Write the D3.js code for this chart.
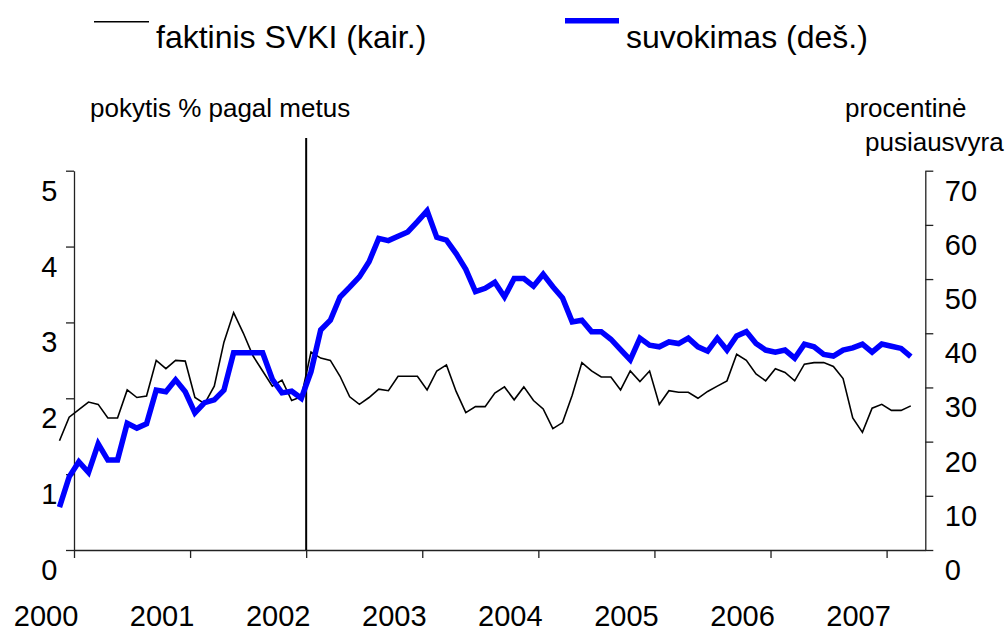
<!DOCTYPE html>
<html lang="lt">
<head>
    <meta charset="UTF-8">
    <title>Faktinė ir suvokiama infliacija</title>
    <style>
        body {
            margin: 0;
            background-color: white;
            font-family: 'Liberation Sans', Arial, sans-serif;
        }
        svg text {
            fill: #000;
        }
    </style>
</head>
<body>

    <div id="chart"></div>

    <script src="https://d3js.org/d3.v7.min.js"></script>

    <script>
        // Data: monthly, Nov 1999 - Mar 2007
        var months = d3.timeMonth.range(new Date(1999, 10, 1), new Date(2007, 3, 1));

        // actual HICP, % change y-o-y (left axis)
        var hicpActual = [
            1.44, 1.75, 1.85, 1.95, 1.92, 1.74, 1.74, 2.11, 2.01, 2.03,
            2.50, 2.39, 2.50, 2.49, 2.01, 1.93, 2.16, 2.74, 3.13, 2.86,
            2.56, 2.36, 2.16, 2.24, 1.97, 2.02, 2.61, 2.53, 2.50, 2.29,
            2.02, 1.92, 2.01, 2.12, 2.10, 2.29, 2.29, 2.29, 2.11, 2.36,
            2.44, 2.09, 1.81, 1.89, 1.89, 2.07, 2.15, 1.98, 2.15, 1.97,
            1.86, 1.60, 1.68, 2.04, 2.47, 2.36, 2.28, 2.28, 2.11, 2.36,
            2.22, 2.36, 1.92, 2.10, 2.08, 2.08, 2.00, 2.09, 2.16, 2.23,
            2.58, 2.50, 2.32, 2.23, 2.39, 2.34, 2.23, 2.45, 2.47, 2.47,
            2.42, 2.26, 1.74, 1.55, 1.87, 1.92, 1.84, 1.84, 1.90
        ];

        // perceived inflation, balance of answers (right axis)
        var perceived = [
            7.9, 13.5, 16.3, 14.3, 19.6, 16.6, 16.6, 23.4, 22.5, 23.3,
            29.5, 29.2, 31.4, 29.2, 25.3, 27.2, 27.7, 29.5, 36.4, 36.4,
            36.4, 36.4, 31.5, 29.0, 29.3, 28.0, 32.9, 40.6, 42.4, 46.7,
            48.5, 50.4, 53.2, 57.5, 57.1, 57.9, 58.7, 60.6, 62.6, 57.7,
            57.2, 54.7, 51.8, 47.7, 48.3, 49.4, 46.7, 50.1, 50.1, 48.7,
            50.9, 48.6, 46.5, 42.1, 42.4, 40.3, 40.3, 38.9, 37.0, 35.1,
            39.1, 37.8, 37.5, 38.4, 38.1, 39.1, 37.5, 36.7, 39.1, 36.9,
            39.5, 40.3, 38.1, 36.9, 36.5, 36.9, 35.4, 38.0, 37.5, 36.1,
            35.8, 36.9, 37.3, 38.0, 36.5, 38.0, 37.6, 37.2, 35.7
        ];

        var years = [2000, 2001, 2002, 2003, 2004, 2005, 2006, 2007];
        var leftTicks = [0, 1, 2, 3, 4, 5];
        var rightTicks = [0, 10, 20, 30, 40, 50, 60, 70];
        var markerDate = new Date(2002, 0, 1);   // vertical line

        var w = 1008, h = 632;

        var svg = d3.select("#chart")
            .append("svg")
            .attr("width", w)
            .attr("height", h);

        // months since Jan 2000 -> x
        function monthIdx(d) {
            return (d.getFullYear() - 2000) * 12 + d.getMonth();
        }
        var x = d3.scaleLinear().domain([0, 88]).range([74, 925.3]);
        var yLeft = d3.scaleLinear().domain([0, 5]).range([550, 170.7]);
        var yRight = d3.scaleLinear().domain([0, 70]).range([550, 170.7]);

        function styleAxis(g) {
            g.selectAll("path, line")
                .attr("stroke", "#222")
                .attr("stroke-width", 1.3);
            g.selectAll("text")
                .attr("fill", "#000")
                .style("font-family", "'Liberation Sans', Arial, sans-serif");
        }

        // bottom axis
        var xAxis = svg.append("g")
            .attr("transform", "translate(0,550)")
            .call(d3.axisBottom(x)
                .tickValues(years.map(function(y) { return (y - 2000) * 12; }))
                .tickFormat(function(m) { return 2000 + m / 12; })
                .tickSize(8)
                .tickSizeOuter(0));
        styleAxis(xAxis);
        xAxis.selectAll("text")
            .attr("x", -28.5)
            .attr("y", 76)
            .attr("dy", null)
            .attr("font-size", 29);

        // left axis
        var leftAxis = svg.append("g")
            .attr("transform", "translate(74,0)")
            .call(d3.axisLeft(yLeft)
                .tickValues(leftTicks)
                .tickFormat(d3.format("d"))
                .tickSize(8)
                .tickSizeOuter(0));
        styleAxis(leftAxis);
        leftAxis.selectAll("text")
            .attr("x", -16.5)
            .attr("y", 29.5)
            .attr("dy", null)
            .attr("font-size", 29);

        // right axis
        var rightAxis = svg.append("g")
            .attr("transform", "translate(925.3,0)")
            .call(d3.axisRight(yRight)
                .tickValues(rightTicks)
                .tickFormat(d3.format("d"))
                .tickSize(8)
                .tickSizeOuter(0));
        styleAxis(rightAxis);
        rightAxis.selectAll("text")
            .attr("x", 19.5)
            .attr("y", 29.5)
            .attr("dy", null)
            .attr("font-size", 29);

        // vertical marker line
        svg.append("line")
            .attr("x1", x(monthIdx(markerDate)))
            .attr("x2", x(monthIdx(markerDate)))
            .attr("y1", 138)
            .attr("y2", 550)
            .attr("stroke", "#000")
            .attr("stroke-width", 2);

        // lines
        var lineLeft = d3.line()
            .x(function(d, i) { return x(monthIdx(months[i]) + 0.5); })
            .y(function(d) { return yLeft(d); });
        var lineRight = d3.line()
            .x(function(d, i) { return x(monthIdx(months[i]) + 0.5); })
            .y(function(d) { return yRight(d); });

        svg.append("path")
            .datum(hicpActual)
            .attr("d", lineLeft)
            .attr("fill", "none")
            .attr("stroke", "#000")
            .attr("stroke-width", 1.6);

        svg.append("path")
            .datum(perceived)
            .attr("d", lineRight)
            .attr("fill", "none")
            .attr("stroke", "#0000ff")
            .attr("stroke-width", 5.5);

        // legend
        svg.append("line")
            .attr("x1", 94).attr("x2", 149)
            .attr("y1", 21.7).attr("y2", 21.7)
            .attr("stroke", "#000").attr("stroke-width", 1.6);
        svg.append("text")
            .attr("x", 156).attr("y", 48)
            .attr("font-size", 32)
            .text("faktinis SVKI (kair.)");

        svg.append("line")
            .attr("x1", 565).attr("x2", 619)
            .attr("y1", 20.7).attr("y2", 20.7)
            .attr("stroke", "#0000ff").attr("stroke-width", 5.5);
        svg.append("text")
            .attr("x", 626).attr("y", 48)
            .attr("font-size", 32)
            .text("suvokimas (deš.)");

        // axis titles
        svg.append("text")
            .attr("x", 90).attr("y", 117)
            .attr("font-size", 26)
            .text("pokytis % pagal metus");
        svg.append("text")
            .attr("x", 845).attr("y", 117)
            .attr("font-size", 26)
            .text("procentinė");
        svg.append("text")
            .attr("x", 865).attr("y", 151)
            .attr("font-size", 26)
            .text("pusiausvyra");
    </script>

</body>
</html>
